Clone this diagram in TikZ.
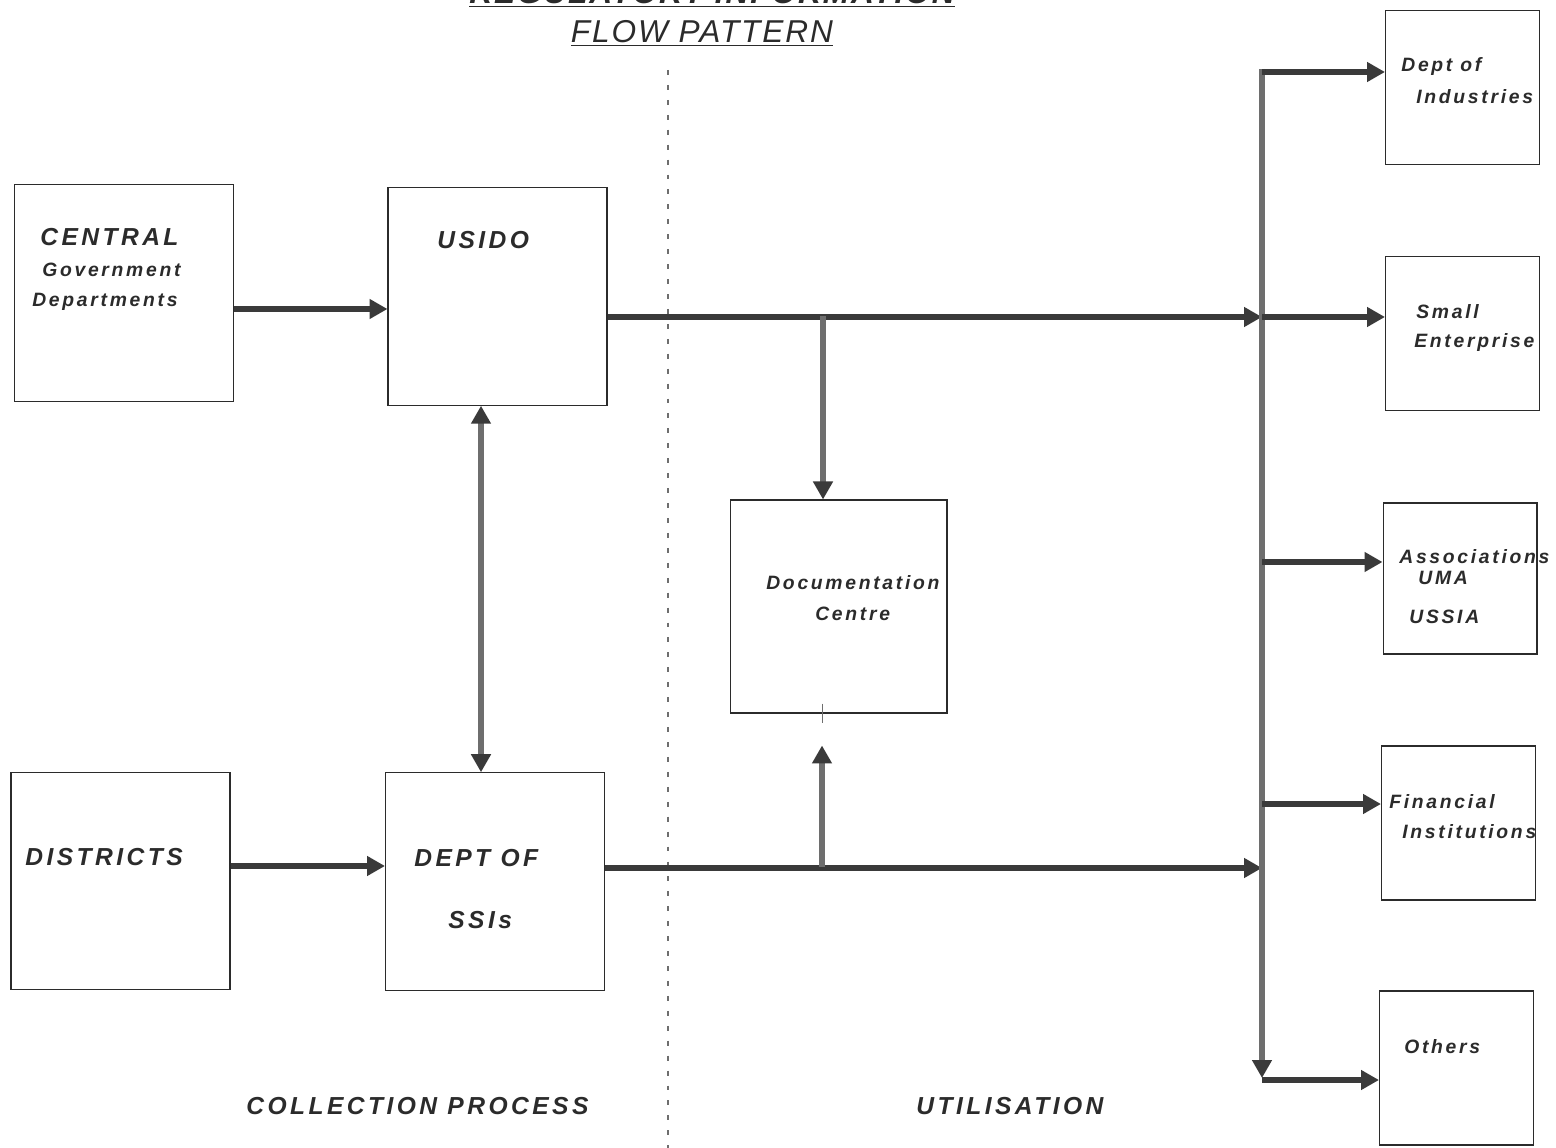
\documentclass[tikz,border=0pt]{standalone}
\usepackage{fontspec}
\newfontfamily\plotfont{Liberation Sans}[LetterSpace=14]
\newfontfamily\headfont{Liberation Sans}[LetterSpace=6]
\usetikzlibrary{arrows.meta}
\definecolor{ink}{HTML}{2B2B2B}
\definecolor{pen}{HTML}{3A3A3A}
\definecolor{lead}{HTML}{6E6E6E}

\begin{document}
\begin{tikzpicture}[
    x=0.02cm, y=-0.02cm,
    every node/.style={text=ink},
    bigbox/.style={draw=ink, line width=0.6pt, minimum width=4.38cm, minimum height=4.35cm, inner sep=0},
    smallbox/.style={draw=ink, line width=0.6pt, minimum width=3.08cm, minimum height=3.08cm, inner sep=0},
    bigtxt/.style={anchor=west, inner sep=0, font=\plotfont\fontsize{14}{16}\bfseries\itshape},
    smalltxt/.style={anchor=west, inner sep=0, font=\plotfont\fontsize{11}{13}\bfseries\itshape},
    head/.style={anchor=base, inner sep=0, font=\headfont\fontsize{18}{20}\itshape},
    tip/.style={Triangle[length=0.36cm, width=0.38cm, color=pen]},
    flow/.style={draw=pen, line width=3.4pt, -{Triangle[length=0.36cm, width=0.38cm]}},
    drop/.style={draw=lead, line width=3pt, -{Triangle[length=0.36cm, width=0.38cm, color=pen]}},
    twoway/.style={draw=lead, line width=3pt, {Triangle[length=0.36cm, width=0.38cm, color=pen]}-{Triangle[length=0.36cm, width=0.38cm, color=pen]}},
    busline/.style={draw=lead, line width=3.2pt, -{Triangle[length=0.36cm, width=0.38cm, color=pen]}},
    divider/.style={draw=lead, line width=0.6pt, dash pattern=on 2.8pt off 5.7pt}
  ]
    \useasboundingbox (0,0) rectangle (1556,1148);
    \clip (0,0) rectangle (1556,1148);

    % title
    \node[head, font=\headfont\fontsize{18}{20}\bfseries\itshape] (titleA) at (712,4) {\underline{REGULATORY INFORMATION}};
    \node[head] (titleB) at (702,43) {\underline{FLOW PATTERN}};

    % boxes
    \node[bigbox] (central) at (124,293) {};
    \node[bigbox] (usido) at (497.5,296.5) {};
    \node[bigbox] (districts) at (120.5,881) {};
    \node[bigbox] (ssis) at (495,881.5) {};
    \node[bigbox, minimum width=4.34cm, minimum height=4.26cm] (doc) at (838.5,606.5) {};
    \node[smallbox] (deptind) at (1462.5,87.5) {};
    \node[smallbox] (small) at (1462.5,333.5) {};
    \node[smallbox, minimum height=3.02cm] (assoc) at (1460,578.5) {};
    \node[smallbox] (fin) at (1458.5,823) {};
    \node[smallbox] (others) at (1456.5,1068) {};

    % texts
    \node[bigtxt] (centralA) at (40,237) {CENTRAL};
    \node[smalltxt] (centralB) at (42,270) {Government};
    \node[smalltxt] (centralC) at (32,302) {Departments};
    \node[bigtxt] (usidoA) at (437,240) {USIDO};
    \node[bigtxt] (districtsA) at (25,857) {DISTRICTS};
    \node[bigtxt] (ssisA) at (414,858) {DEPT OF};
    \node[bigtxt] (ssisB) at (448,920) {SSIs};
    \node[smalltxt] (docA) at (766,583) {Documentation};
    \node[smalltxt] (docB) at (815,614) {Centre};
    \node[smalltxt] (deptindA) at (1401,67) {Dept of};
    \node[smalltxt] (deptindB) at (1416,97) {Industries};
    \node[smalltxt] (smallA) at (1416,312) {Small};
    \node[smalltxt] (smallB) at (1414,343) {Enterprise};
    \node[smalltxt] (assocA) at (1399,557) {Associations};
    \node[smalltxt] (assocB) at (1418,578) {UMA};
    \node[smalltxt] (assocC) at (1409,617) {USSIA};
    \node[smalltxt] (finA) at (1389,802) {Financial};
    \node[smalltxt] (finB) at (1402,832) {Institutions};
    \node[smalltxt] (othersA) at (1404,1047) {Others};
    \node[bigtxt] (collect) at (246,1106) {COLLECTION PROCESS};
    \node[bigtxt] (utilise) at (916,1106) {UTILISATION};

    % junctions
    \coordinate (busTop) at (1262,69);
    \coordinate (busBot) at (1262,1080);
    \coordinate (jHigh) at (1262,317);
    \coordinate (jLow) at (1262,868);
    \coordinate (jAssoc) at (1262,562);
    \coordinate (jFin) at (1262,804);
    \coordinate (tapHigh) at (823,316);
    \coordinate (tapLow) at (822,867);
    \coordinate (linkX) at (481,0);

    \draw[divider] (668,70) -- (668,1148);

    % collection side
    \draw[flow] (central.east |- 0,309) -- (usido.west |- 0,309);
    \draw[flow] (districts.east |- 0,866) -- (ssis.west |- 0,866);
    \draw[twoway] (usido.south -| linkX) -- (ssis.north -| linkX);

    % utilisation side
    \draw[flow] (usido.east |- jHigh) -- (jHigh);
    \draw[flow] (ssis.east |- jLow) -- (jLow);
    \draw[drop] (tapHigh) -- (doc.north -| tapHigh);
    \draw[drop, shorten >=0.64cm] (tapLow) -- (doc.south -| tapLow);
    \draw[lead, line width=0.5pt] ([yshift=0.2cm]doc.south -| tapLow) -- ([yshift=-0.18cm]doc.south -| tapLow);

    % distribution bus
    \draw[busline] (busTop) -- ([yshift=0.04cm]busBot);
    \draw[flow] ([yshift=-0.06cm]busTop) -- (deptind.west |- 0,72);
    \draw[flow] (jHigh) -- (small.west |- jHigh);
    \draw[flow] (jAssoc) -- (assoc.west |- jAssoc);
    \draw[flow] (jFin) -- (fin.west |- jFin);
    \draw[flow] (busBot) -- (others.west |- busBot);
  \end{tikzpicture}
\end{document}
